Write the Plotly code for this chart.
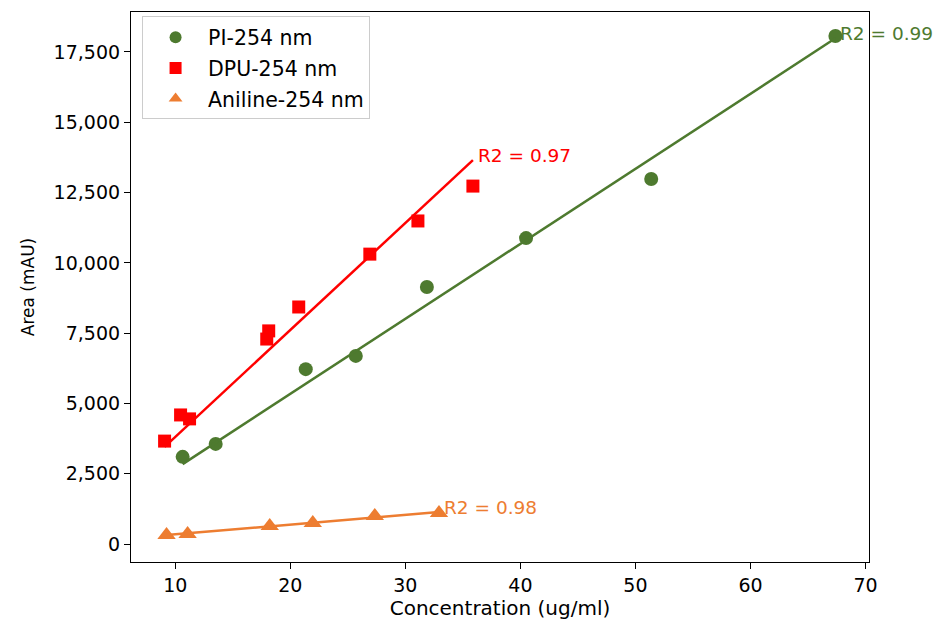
import numpy as np
import plotly.graph_objects as go

# Calibration data: concentration (ug/ml) vs peak area (mAU) at 254 nm
pi_conc = [10.64, 13.51, 21.34, 25.69, 31.87, 40.49, 51.37, 67.38]
pi_area = [3100, 3560, 6220, 6690, 9140, 10880, 12980, 18070]

dpu_conc = [9.07, 10.46, 11.24, 17.95, 18.12, 20.73, 26.91, 31.09, 35.87]
dpu_area = [3660, 4590, 4450, 7290, 7580, 8430, 10310, 11490, 12730]

ani_conc = [9.24, 11.07, 18.21, 21.95, 27.34, 32.92]
ani_area = [320, 360, 640, 750, 1000, 1100]

series = [
    ("PI-254 nm", pi_conc, pi_area, "#4e7a2f", "circle", 14, "R2 = 0.99"),
    ("DPU-254 nm", dpu_conc, dpu_area, "#ff0000", "square", 13, "R2 = 0.97"),
    ("Aniline-254 nm", ani_conc, ani_area, "#ed7d31", "triangle-up", 16, "R2 = 0.98"),
]

FONT = "DejaVu Sans"
fig = go.Figure()

for name, xs, ys, color, symbol, msize, r2 in series:
    xs_a = np.array(xs, dtype=float)
    ys_a = np.array(ys, dtype=float)
    # least-squares line through the origin
    slope = (xs_a * ys_a).sum() / (xs_a * xs_a).sum()
    x_line = np.array([xs_a.min(), xs_a.max()])
    y_line = slope * x_line
    fig.add_trace(go.Scatter(
        x=xs, y=ys, mode="markers", name=name, legendgroup=name,
        marker=dict(color=color, symbol=symbol, size=msize, line=dict(width=0)),
    ))
    fig.add_trace(go.Scatter(
        x=x_line, y=y_line, mode="lines", showlegend=False, legendgroup=name,
        line=dict(color=color, width=2.5), hoverinfo="skip",
    ))
    fig.add_annotation(
        x=x_line[1], y=y_line[1], text=r2, showarrow=False,
        xanchor="left", yanchor="middle", xshift=3, yshift=5,
        font=dict(family=FONT, size=18.5, color=color),
    )

axis_common = dict(
    showline=True, linecolor="black", linewidth=1.2, mirror=True,
    ticks="outside", ticklen=6, tickwidth=1.2, tickcolor="black",
    showgrid=False, zeroline=False,
    tickfont=dict(family=FONT, size=19, color="black"),
)

fig.update_xaxes(
    range=[6.15, 70.30], tickvals=[10, 20, 30, 40, 50, 60, 70],
    title=dict(text="Concentration (ug/ml)", font=dict(family=FONT, size=20, color="black"), standoff=4),
    **axis_common,
)
fig.update_yaxes(
    range=[-640, 18922], tickvals=[0, 2500, 5000, 7500, 10000, 12500, 15000, 17500],
    tickformat=",",
    title=dict(text="Area (mAU)", font=dict(family=FONT, size=17, color="black"), standoff=14),
    **axis_common,
)

fig.update_layout(
    width=941, height=628,
    margin=dict(l=131, r=72, t=12, b=66),
    paper_bgcolor="white", plot_bgcolor="white",
    font=dict(family=FONT, size=18, color="black"),
    legend=dict(
        x=0.015, y=0.992, xanchor="left", yanchor="top",
        bgcolor="rgba(255,255,255,0.8)", bordercolor="#cccccc", borderwidth=1,
        font=dict(family=FONT, size=20.5, color="black"),
        itemsizing="constant", itemwidth=55, tracegroupgap=1,
    ),
    showlegend=True,
)

fig.write_html("out.html")
